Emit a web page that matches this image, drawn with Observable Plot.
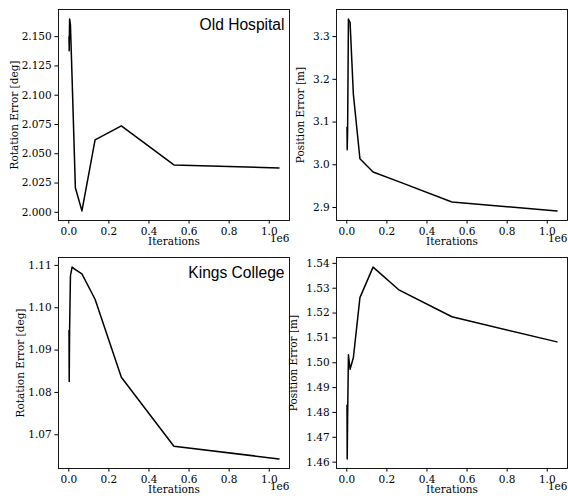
<!DOCTYPE html>
<html>
<head>
<meta charset="utf-8">
<script src="https://cdn.jsdelivr.net/npm/d3@7"></script>
<script src="https://cdn.jsdelivr.net/npm/@observablehq/plot@0.6"></script>
<style>
  html, body { margin: 0; padding: 0; background: #fff; }
  #wrap { position: relative; width: 568px; height: 496px; overflow: hidden; background: #fff; }
</style>
</head>
<body>
<div id="wrap"></div>
<script>
// ---- data ----
const iterations = [1024, 2048, 4096, 8192, 16384, 32768, 65536, 131072, 262144, 524288, 1048576];
const oldHospitalRotation = [2.150, 2.138, 2.165, 2.160, 2.115, 2.021, 2.0012, 2.0619, 2.0738, 2.0405, 2.0379];
const oldHospitalPosition = [3.088, 3.035, 3.080, 3.341, 3.333, 3.165, 3.014, 2.983, 2.960, 2.913, 2.892];
const kingsCollegeRotation = [1.0946, 1.0826, 1.0950, 1.1075, 1.1096, 1.1090, 1.1080, 1.1020, 1.0836, 1.0673, 1.0643];
const kingsCollegePosition = [1.4829, 1.4613, 1.4780, 1.5032, 1.4974, 1.5020, 1.5262, 1.5385, 1.5292, 1.5185, 1.5084];

const xTicks = [0, 200000, 400000, 600000, 800000, 1000000];
const yTicksOHRot = [2.000, 2.025, 2.050, 2.075, 2.100, 2.125, 2.150];
const yTicksOHPos = [2.9, 3.0, 3.1, 3.2, 3.3];
const yTicksKCRot = [1.07, 1.08, 1.09, 1.10, 1.11];
const yTicksKCPos = [1.46, 1.47, 1.48, 1.49, 1.50, 1.51, 1.52, 1.53, 1.54];

const serif = "DejaVu Serif";
const sans = "Liberation Sans";

function pad(ext) { const m = (ext[1] - ext[0]) * 0.05; return [ext[0] - m, ext[1] + m]; }

function panel({values, yTicks, decimals, yLabel, title, left, top, width, marginLeft, marginRight, yLabelDx}) {
  const data = iterations.map((it, i) => ({it, v: values[i]}));
  const marks = [
    Plot.line(data, {x: "it", y: "v", stroke: "#000", strokeWidth: 1.5}),
    Plot.frame({stroke: "#000", strokeWidth: 0.9}),
    Plot.axisX({ticks: xTicks, tickFormat: d => (d / 1e6).toFixed(1), tickSize: 3.6, tickPadding: 3.2, label: null, fontSize: 10.5, fontFamily: serif, stroke: "#000", fill: "#000"}),
    Plot.axisY({ticks: yTicks, tickFormat: d => d.toFixed(decimals), tickSize: 3.6, tickPadding: 3.2, label: null, fontSize: 10.5, fontFamily: serif, stroke: "#000", fill: "#000"}),
    Plot.text([yLabel], {frameAnchor: "left", text: d => d, rotate: -90, dx: yLabelDx, textAnchor: "middle", lineAnchor: "middle", fontSize: 10.5, fontFamily: serif, fill: "#000"}),
    Plot.text(["Iterations"], {frameAnchor: "bottom", text: d => d, dy: 21.5, textAnchor: "middle", lineAnchor: "middle", fontSize: 10.5, fontFamily: serif, fill: "#000"}),
    Plot.text(["1e6"], {frameAnchor: "bottom-right", text: d => d, dy: 18, textAnchor: "end", lineAnchor: "middle", fontSize: 10.5, fontFamily: serif, fill: "#000"})
  ];
  if (title) marks.push(Plot.text([title], {frameAnchor: "top-right", text: d => d, dx: -5, dy: 20, textAnchor: "end", lineAnchor: "bottom", fontSize: 15.6, fontFamily: sans, fill: "#000"}));
  const chart = Plot.plot({
    width, height: 248,
    marginLeft, marginRight, marginTop: 9, marginBottom: 28,
    style: {fontFamily: serif, fontSize: "10.5px", background: "transparent", overflow: "visible", color: "#000"},
    x: {domain: pad(d3.extent(iterations))},
    y: {domain: pad(d3.extent(values))},
    marks
  });
  chart.style.left = left + "px";
  chart.style.top = top + "px";
  chart.style.position = "absolute";
  document.getElementById("wrap").appendChild(chart);
}

panel({values: oldHospitalRotation, yTicks: yTicksOHRot, decimals: 3, yLabel: "Rotation Error [deg]", title: "Old Hospital",
       left: 0, top: 0, width: 292, marginLeft: 58, marginRight: 3, yLabelDx: -44});
panel({values: oldHospitalPosition, yTicks: yTicksOHPos, decimals: 1, yLabel: "Position Error [m]", title: null,
       left: 292, top: 0, width: 276, marginLeft: 44, marginRight: 1, yLabelDx: -36});
panel({values: kingsCollegeRotation, yTicks: yTicksKCRot, decimals: 2, yLabel: "Rotation Error [deg]", title: "Kings College",
       left: 0, top: 248, width: 292, marginLeft: 58, marginRight: 3, yLabelDx: -38});
panel({values: kingsCollegePosition, yTicks: yTicksKCPos, decimals: 2, yLabel: "Position Error [m]", title: null,
       left: 292, top: 248, width: 276, marginLeft: 44, marginRight: 1, yLabelDx: -43});
</script>
</body>
</html>
